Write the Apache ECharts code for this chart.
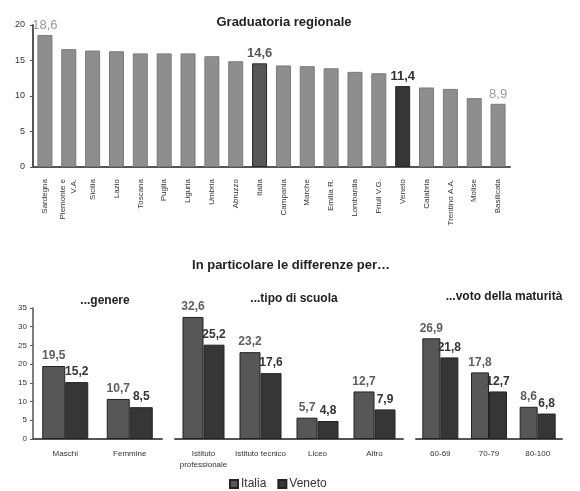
<!DOCTYPE html>
<html>
<head>
<meta charset="utf-8">
<script src="https://cdn.jsdelivr.net/npm/echarts@6/dist/echarts.min.js"></script>
<style>html,body{margin:0;padding:0;background:#fff;}#c{width:580px;height:491px;}</style>
</head>
<body>
<div id="c"></div>
<script>
// ---- Data ----
const regions = ['Sardegna','Piemonte e\nV.A.','Sicilia','Lazio','Toscana','Puglia','Liguria','Umbria','Abruzzo','Italia','Campania','Marche','Emilia R.','Lombardia','Friuli V.G.','Veneto','Calabria','Trentino A.A.','Molise','Basilicata'];
const regionValues = [18.6,16.6,16.4,16.3,16.0,16.0,16.0,15.6,14.9,14.6,14.3,14.2,13.9,13.4,13.2,11.4,11.2,11.0,9.7,8.9];
const labelledRegions = ['Sardegna','Italia','Veneto','Basilicata'];
const regionTicks = [0,5,10,15,20];

const genereCats = ['Maschi','Femmine'];
const genereItalia = [19.5,10.7];
const genereVeneto = [15.2,8.5];

const scuolaCats = ['Istituto\nprofessionale','Istituto tecnico','Liceo','Altro'];
const scuolaItalia = [32.6,23.2,5.7,12.7];
const scuolaVeneto = [25.2,17.6,4.8,7.9];

const votoCats = ['60-69','70-79','80-100'];
const votoItalia = [26.9,17.8,8.6];
const votoVeneto = [21.8,12.7,6.8];

const seriesNames = ['Italia','Veneto'];

// ---- Styles ----
const FONT = 'Liberation Sans, Arial, sans-serif';
const C_REG = '#8e8e8e', C_ITA = '#575757', C_VEN = '#363636';
const fmt = v => String(v.toFixed(1)).replace('.', ',');

const regionData = regions.map((r, i) => {
  let color = C_REG, lblColor = '#9a9a9a', weight = 'normal';
  if (r === 'Italia') { color = C_ITA; lblColor = '#555'; weight = 'bold'; }
  if (r === 'Veneto') { color = C_VEN; lblColor = '#333'; weight = 'bold'; }
  return {
    value: regionValues[i],
    itemStyle: { color: color, borderColor: r === 'Italia' || r === 'Veneto' ? '#2a2a2a' : '#7a7a7a', borderWidth: 1 },
    label: { show: labelledRegions.indexOf(r) >= 0, color: lblColor, fontWeight: weight, fontSize: 13 }
  };
});

const chart = echarts.init(document.getElementById('c'), null, { renderer: 'canvas' });

const grids = [
  { left: 33, width: 477, top: 25, height: 142 },
  { left: 33, width: 129, top: 308, height: 131 },
  { left: 175, width: 228, top: 308, height: 131 },
  { left: 416, width: 146, top: 308, height: 131 }
];

const catLabel = { fontSize: 8, color: '#333', fontFamily: FONT, margin: 9, lineHeight: 11 };
const axisLine = { show: true, lineStyle: { color: '#555', width: 2 } };

function xAxis(idx, data) {
  return { gridIndex: idx, type: 'category', data: data, axisLine: axisLine, axisTick: { show: false }, axisLabel: Object.assign({}, catLabel, { interval: 0 }) };
}

function barSeries(name, idx, data, width) {
  const col = name === 'Italia' ? C_ITA : C_VEN;
  return {
    name: name, type: 'bar', xAxisIndex: idx, yAxisIndex: idx, data: data,
    barWidth: width, barGap: '0%',
    itemStyle: { color: col, borderColor: '#222', borderWidth: 1 },
    label: { show: true, position: 'top', formatter: p => fmt(p.value), fontSize: 12, fontWeight: 'bold', color: name === 'Italia' ? '#5e5e5e' : '#333', fontFamily: FONT, distance: 4 }
  };
}

const option = {
  animation: false,
  textStyle: { fontFamily: FONT },
  title: [
    { text: 'Graduatoria regionale', left: 279, top: 11, textAlign: 'center', textStyle: { fontSize: 13, fontWeight: 'bold', color: '#222', fontFamily: FONT } },
    { text: 'In particolare le differenze per\u2026', left: 286, top: 254, textAlign: 'center', textStyle: { fontSize: 13, fontWeight: 'bold', color: '#222', fontFamily: FONT } },
    { text: '...genere', left: 100, top: 290, textAlign: 'center', textStyle: { fontSize: 12, fontWeight: 'bold', color: '#222', fontFamily: FONT } },
    { text: '...tipo di scuola', left: 289, top: 288, textAlign: 'center', textStyle: { fontSize: 12, fontWeight: 'bold', color: '#222', fontFamily: FONT } },
    { text: '...voto della maturità', left: 499, top: 286, textAlign: 'center', textStyle: { fontSize: 12, fontWeight: 'bold', color: '#222', fontFamily: FONT } }
  ],
  legend: {
    data: seriesNames, left: 229, top: 478, padding: 0, icon: 'rect', itemWidth: 8, itemHeight: 8, itemGap: 11,
    textStyle: { fontSize: 12, color: '#333', fontFamily: FONT, padding: [0, 0, 0, -2] }
  },
  grid: grids,
  xAxis: [
    { gridIndex: 0, type: 'category', data: regions, axisLine: axisLine, axisTick: { show: false },
      axisLabel: { interval: 0, rotate: 90, fontSize: 8, color: '#333', fontFamily: FONT, margin: 12, lineHeight: 11 } },
    xAxis(1, genereCats), xAxis(2, scuolaCats), xAxis(3, votoCats)
  ],
  yAxis: [
    { gridIndex: 0, type: 'value', min: regionTicks[0], max: regionTicks[regionTicks.length - 1], interval: 5,
      axisLine: { show: true, lineStyle: { color: '#555', width: 2 } }, axisTick: { show: true, length: 3, lineStyle: { color: '#555' } },
      splitLine: { show: false }, axisLabel: { fontSize: 9, color: '#333', margin: 8, fontFamily: FONT } },
    { gridIndex: 1, type: 'value', min: 0, max: 35, interval: 5,
      axisLine: { show: true, lineStyle: { color: '#555', width: 1.5 } }, axisTick: { show: true, length: 3, lineStyle: { color: '#555' } },
      splitLine: { show: false }, axisLabel: { fontSize: 8, color: '#333', margin: 6, fontFamily: FONT } },
    { gridIndex: 2, type: 'value', min: 0, max: 35, show: false, splitLine: { show: false } },
    { gridIndex: 3, type: 'value', min: 0, max: 35, show: false, splitLine: { show: false } }
  ],
  series: [
    { type: 'bar', xAxisIndex: 0, yAxisIndex: 0, data: regionData, barWidth: 15,
      label: { position: 'top', formatter: p => fmt(p.value), distance: 3, fontFamily: FONT } },
    barSeries('Italia', 1, genereItalia, 23), barSeries('Veneto', 1, genereVeneto, 23),
    barSeries('Italia', 2, scuolaItalia, 21), barSeries('Veneto', 2, scuolaVeneto, 21),
    barSeries('Italia', 3, votoItalia, 18), barSeries('Veneto', 3, votoVeneto, 18)
  ]
};
chart.setOption(option);
</script>
</body>
</html>
